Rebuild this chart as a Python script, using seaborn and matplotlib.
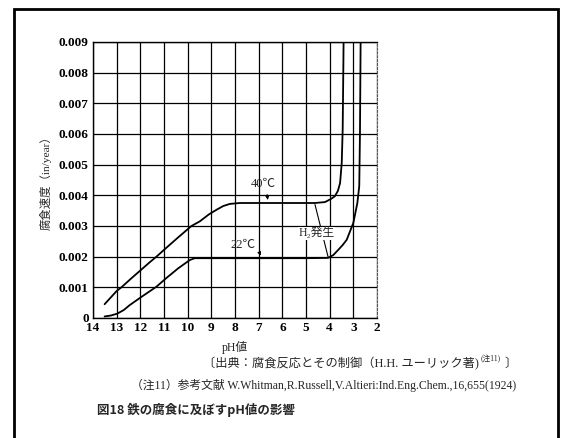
"""
Effect of pH on the corrosion rate of iron (recreated figure)
"""
import matplotlib
matplotlib.use("Agg")
import matplotlib.pyplot as plt
from matplotlib.patches import Rectangle
import seaborn as sns
import pandas as pd

# Curve readings (pH, corrosion rate in in/year)
ph_40c = [13.51, 13.0, 12.8, 12.4, 12.0, 11.6, 11.32, 10.9, 10.4, 9.84, 9.49,
          9.1, 8.78, 8.5, 8.22, 7.8, 7.0, 6.0, 5.0, 4.62, 4.2, 3.95, 3.78,
          3.65, 3.56, 3.49, 3.45, 3.42, 3.41]
rate_40c = [0.00045, 0.00088, 0.00100, 0.00128, 0.00155, 0.00182, 0.00200,
            0.00229, 0.00263, 0.00300, 0.00315, 0.00338, 0.00353, 0.00365,
            0.00372, 0.00375, 0.00375, 0.00375, 0.00375, 0.00375, 0.00378,
            0.00388, 0.00397, 0.00415, 0.00440, 0.00506, 0.00615, 0.00834,
            0.00920]

ph_22c = [13.51, 13.25, 12.98, 12.7, 12.45, 11.95, 11.32, 10.92, 10.4, 9.91,
          9.7, 9.0, 8.0, 7.0, 6.0, 5.0, 4.07, 3.85, 3.64, 3.45, 3.28, 3.0,
          2.83, 2.75, 2.72, 2.69]
rate_22c = [0.00005, 0.00008, 0.00014, 0.00026, 0.00042, 0.00069, 0.00102,
            0.00129, 0.00162, 0.00189, 0.00195, 0.00195, 0.00195, 0.00195,
            0.00195, 0.00195, 0.00196, 0.00205, 0.00222, 0.00238, 0.00255,
            0.00310, 0.00375, 0.00430, 0.00600, 0.00920]

x_ticks = [14, 13, 12, 11, 10, 9, 8, 7, 6, 5, 4, 3, 2]
y_ticks = [0, 0.001, 0.002, 0.003, 0.004, 0.005, 0.006, 0.007, 0.008, 0.009]
y_tick_labels = ["0", "0.001", "0.002", "0.003", "0.004", "0.005",
                 "0.006", "0.007", "0.008", "0.009"]

sns.set_style("white")
SERIF_JP = ["Liberation Serif", "Noto Sans CJK JP"]
plt.rcParams["font.family"] = SERIF_JP

W, H = 561, 438
fig = plt.figure(figsize=(W / 100, H / 100), dpi=100)
fig.patch.set_facecolor("white")

# axes placed in pixel terms of the scanned page
ax_l, ax_r, ax_t, ax_b = 93, 377, 42, 318
ax = fig.add_axes([ax_l / W, 1 - ax_b / H, (ax_r - ax_l) / W, (ax_b - ax_t) / H])

df = pd.concat([
    pd.DataFrame({"pH": ph_40c, "rate": rate_40c, "temp": "40℃"}),
    pd.DataFrame({"pH": ph_22c, "rate": rate_22c, "temp": "22℃"}),
])
sns.lineplot(data=df, x="pH", y="rate", units="temp", estimator=None,
             sort=False, color="black", lw=1.3, ax=ax, legend=False)

ax.set_xlim(14, 2)
ax.set_ylim(0, 0.009)
ax.set_xticks(x_ticks)
ax.set_xticklabels([str(t) for t in x_ticks])
ax.set_yticks(y_ticks)
ax.set_yticklabels(y_tick_labels)
ax.tick_params(length=0, pad=3, labelsize=9.5, colors="black")
for lbl in ax.get_xticklabels() + ax.get_yticklabels():
    lbl.set_fontweight("bold")
ax.grid(True, color="black", lw=0.9)
ax.set_axisbelow(True)
for side in ["left", "bottom", "top"]:
    ax.spines[side].set_color("black")
    ax.spines[side].set_linewidth(1.0)
ax.spines["right"].set_color("#555555")
ax.spines["right"].set_linestyle((0, (2, 1.5)))

ax.set_xlabel("pH値", fontsize=8.5)
ax.xaxis.set_label_coords(0.5, -0.085)
ax.set_ylabel("腐食速度（in/year）", fontsize=8.2)
ax.yaxis.set_label_coords(-0.145, 0.5)

# curve annotations
ax.text(6.8, 0.00438, "40℃", fontsize=9, ha="center", va="center")
ax.annotate("", xy=(6.6, 0.00376), xytext=(6.66, 0.00412),
            arrowprops=dict(arrowstyle="-|>", lw=0.7, color="black",
                            mutation_scale=5))
ax.text(7.65, 0.00238, "22℃", fontsize=9, ha="center", va="center")
ax.annotate("", xy=(6.85, 0.00196), xytext=(7.0, 0.00218),
            arrowprops=dict(arrowstyle="-|>", lw=0.7, color="black",
                            mutation_scale=5))
ax.plot([4.62, 4.06], [0.0037, 0.00197], color="black", lw=0.8)
ax.text(4.55, 0.00277, "H₂発生", fontsize=8.5, ha="center", va="center",
        bbox=dict(facecolor="white", edgecolor="none", pad=0.3))

# source notes and caption
fig.text(479 / W, 1 - 364 / H, "〔出典：腐食反応とその制御（H.H. ユーリック著)",
         fontsize=8.8, ha="right", va="center")
fig.text(481 / W, 1 - 359 / H, "(注11)", fontsize=5.5, ha="left", va="center")
fig.text(505 / W, 1 - 364 / H, "〕", fontsize=8.8, ha="left", va="center")
fig.text(516 / W, 1 - 385 / H,
         "（注11）参考文献 W.Whitman,R.Russell,V.Altieri:Ind.Eng.Chem.,16,655(1924)",
         fontsize=8.5, ha="right", va="center")
fig.text(97 / W, 1 - 410 / H, "図18 鉄の腐食に及ぼすpH値の影響",
         fontsize=9, fontweight="bold", family=["Noto Sans CJK JP"],
         ha="left", va="center")

# page frame around the figure
fig.patches.append(Rectangle((14 / W, -0.05), 544 / W, 1.05 - 9 / H,
                             transform=fig.transFigure, fill=False,
                             edgecolor="black", lw=2))

plt.savefig("out.png", dpi=100)
